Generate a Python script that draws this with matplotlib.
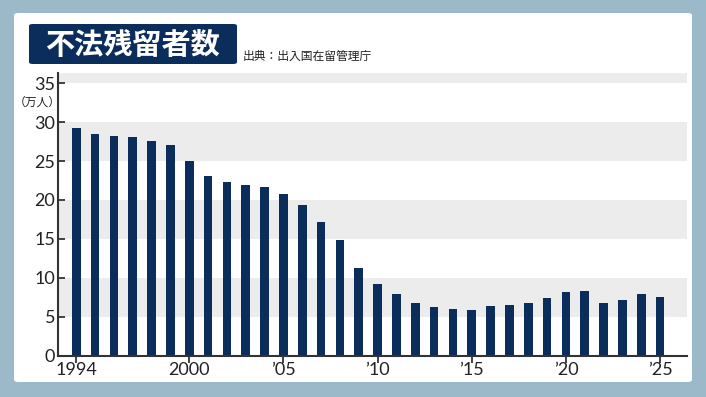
import matplotlib.pyplot as plt
from matplotlib.patches import FancyBboxPatch

plt.rcParams['font.family'] = ['Lato', 'Noto Sans CJK JP', 'DejaVu Sans']

# data (万人)
years = list(range(1994, 2026))
counts = [29.2, 28.5, 28.2, 28.1, 27.6, 27.0, 25.0, 23.1, 22.3, 21.9,
          21.7, 20.7, 19.3, 17.1, 14.9, 11.2, 9.2, 7.9, 6.8, 6.2,
          6.0, 5.9, 6.3, 6.5, 6.7, 7.4, 8.2, 8.3, 6.7, 7.1,
          7.9, 7.5]
tick_years = [1994, 2000, 2005, 2010, 2015, 2020, 2025]
tick_labels = ['1994', '2000', '’05', '’10', '’15', '’20', '’25']
y_ticks = [0, 5, 10, 15, 20, 25, 30, 35]

title = '不法残留者数'
source = '出典：出入国在留管理庁'
unit = '（万人）'

navy = '#0b2d5b'
band = '#ececec'

fig = plt.figure(figsize=(7.06, 3.97), dpi=100)
fig.patch.set_facecolor('#9cb9ca')

# white card behind everything
card = FancyBboxPatch((14 / 706, 1 - 382 / 397), (692 - 14) / 706, (382 - 13) / 397,
                      boxstyle='round,pad=0,rounding_size=0.006',
                      transform=fig.transFigure, facecolor='white',
                      edgecolor='none', zorder=-5)
fig.patches.append(card)

# title box
tbox = FancyBboxPatch((29 / 706, 1 - 64 / 397), (237 - 29) / 706, (64 - 24) / 397,
                      boxstyle='round,pad=0,rounding_size=0.005',
                      transform=fig.transFigure, facecolor=navy,
                      edgecolor='none', zorder=1)
fig.patches.append(tbox)
fig.text(132 / 706, 1 - 45 / 397, title, color='white', fontsize=21,
         fontweight='bold', family=['Noto Sans CJK JP'],
         ha='center', va='center', zorder=2)
fig.text(243 / 706, 1 - 56 / 397, source, color='#222222', fontsize=8.5,
         family=['Noto Sans CJK JP'], ha='left', va='center')

ax = fig.add_axes([58 / 706, 1 - 355.5 / 397, (687 - 58) / 706, (355.5 - 72.7) / 397])
ax.set_facecolor('white')

top = 36.35
for lo, hi in [(5, 10), (15, 20), (25, 30), (35, top)]:
    ax.axhspan(lo, hi, color=band, lw=0, zorder=0)

ax.bar(years, counts, width=0.46, color=navy, zorder=2)

ax.set_xlim(1993.03, 2026.43)
ax.set_ylim(0, top)

ax.set_xticks(tick_years)
ax.set_xticklabels(tick_labels)
ax.set_yticks(y_ticks)

for s in ['top', 'right']:
    ax.spines[s].set_visible(False)
for s in ['left', 'bottom']:
    ax.spines[s].set_color('#333333')
    ax.spines[s].set_linewidth(1.5)
    ax.spines[s].set_zorder(3)

ax.tick_params(axis='y', direction='in', length=5, width=1.3, color='#333333',
               labelsize=13, labelcolor='#222222', pad=2)
ax.tick_params(axis='x', direction='out', length=5, width=1.3, color='#333333',
               labelsize=13, labelcolor='#222222', pad=0)

fig.text(37 / 706, 1 - 102 / 397, unit, fontsize=8.5, color='#222222',
         family=['Noto Sans CJK JP'], ha='center', va='center')

fig.savefig('out.png', dpi=100, facecolor=fig.get_facecolor())
